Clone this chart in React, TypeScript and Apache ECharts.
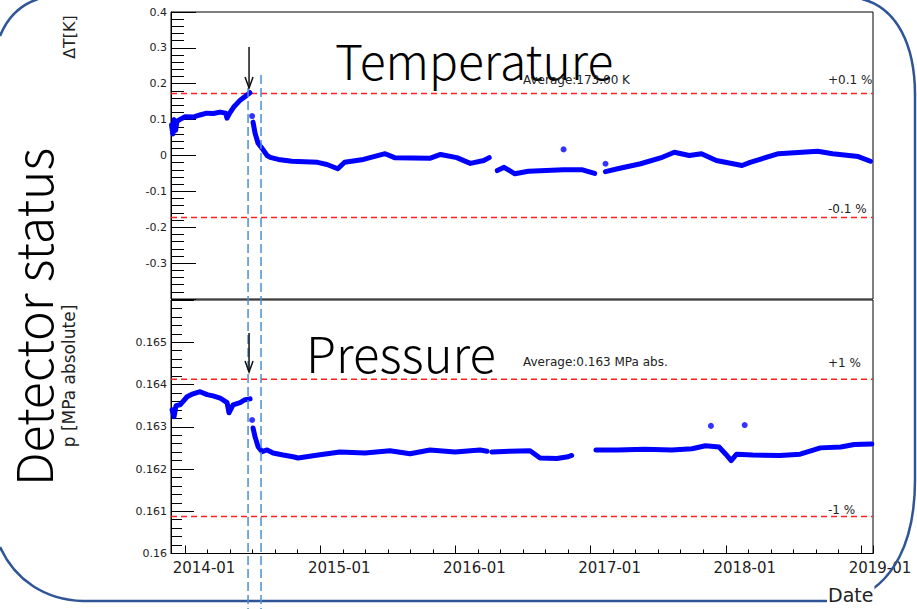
import React, { useEffect, useRef } from 'react';
import * as echarts from 'echarts';

// x values are decimal years (2014.0 = 2014-01-01)
const X_MIN = 2013.896;
const X_MAX = 2019.089;
const YEAR_TICKS = [2014, 2015, 2016, 2017, 2018, 2019];

// Temperature deviation ΔT [K], around the 173.00 K average
const tempSeg1: [number, number][] = [
  [2013.9, 0.085], [2013.91, 0.06], [2013.92, 0.1], [2013.93, 0.07], [2013.94, 0.095], [2013.96, 0.1],
  [2014.0, 0.108], [2014.06, 0.107], [2014.11, 0.113], [2014.16, 0.118], [2014.21, 0.117], [2014.26, 0.121],
  [2014.3, 0.118], [2014.31, 0.104], [2014.33, 0.118], [2014.36, 0.135], [2014.41, 0.155], [2014.46, 0.169],
  [2014.48, 0.175],
];
const tempSeg2: [number, number][] = [
  [2014.503, 0.093], [2014.518, 0.062], [2014.54, 0.034], [2014.57, 0.02], [2014.607, 0.0], [2014.63, -0.005],
  [2014.69, -0.011], [2014.79, -0.016], [2014.98, -0.019], [2015.05, -0.025], [2015.13, -0.037], [2015.18, -0.019],
  [2015.32, -0.011], [2015.48, 0.005], [2015.55, -0.006], [2015.81, -0.008], [2015.89, 0.003], [2016.01, -0.006],
  [2016.11, -0.022], [2016.21, -0.014], [2016.25, -0.006],
];
const tempSeg3: [number, number][] = [
  [2016.31, -0.042], [2016.36, -0.033], [2016.44, -0.051], [2016.54, -0.044], [2016.8, -0.04], [2016.94, -0.04],
  [2017.03, -0.05],
];
const tempSeg4: [number, number][] = [
  [2017.11, -0.045], [2017.2, -0.037], [2017.37, -0.023], [2017.53, -0.005], [2017.62, 0.009], [2017.73, 0.0],
  [2017.82, 0.005], [2017.93, -0.014], [2018.12, -0.028], [2018.18, -0.019], [2018.39, 0.005], [2018.68, 0.012],
  [2018.79, 0.005], [2018.98, -0.003], [2019.07, -0.016],
];
const tempDots: [number, number][] = [[2014.496, 0.11], [2016.8, 0.017], [2017.11, -0.023]];

// Pressure [MPa absolute], around the 0.163 MPa average
const presSeg1: [number, number][] = [
  [2013.904, 0.1634], [2013.919, 0.16324], [2013.933, 0.1635], [2013.963, 0.16352], [2014.015, 0.16371],
  [2014.059, 0.16378], [2014.111, 0.16383], [2014.163, 0.16376], [2014.207, 0.16373], [2014.259, 0.16368],
  [2014.311, 0.16357], [2014.325, 0.16333], [2014.355, 0.16352], [2014.407, 0.16357], [2014.444, 0.16364],
  [2014.481, 0.16366],
];
const presSeg2: [number, number][] = [
  [2014.503, 0.16297], [2014.518, 0.16276], [2014.54, 0.16253], [2014.57, 0.16241], [2014.607, 0.16245],
  [2014.651, 0.16238], [2014.725, 0.16233], [2014.799, 0.16229], [2014.836, 0.16226], [2014.984, 0.16233],
  [2015.146, 0.1624], [2015.331, 0.16238], [2015.516, 0.16243], [2015.664, 0.16236], [2015.812, 0.16245],
  [2015.997, 0.1624], [2016.182, 0.16245], [2016.234, 0.16242],
];
const presSeg3: [number, number][] = [
  [2016.27, 0.1624], [2016.4, 0.16242], [2016.552, 0.16243], [2016.626, 0.16226], [2016.75, 0.16225],
  [2016.833, 0.16229], [2016.86, 0.16232],
];
const presSeg4: [number, number][] = [
  [2017.04, 0.16245], [2017.2, 0.16245], [2017.4, 0.16247], [2017.6, 0.16245], [2017.75, 0.16248],
  [2017.85, 0.16255], [2017.95, 0.16252], [2018.0, 0.16235], [2018.04, 0.1622], [2018.08, 0.16235],
  [2018.2, 0.16233], [2018.4, 0.16232], [2018.55, 0.16235], [2018.7, 0.1625], [2018.85, 0.16252],
  [2018.95, 0.16258], [2019.08, 0.16259],
];
const presDots: [number, number][] = [[2014.496, 0.16316], [2017.89, 0.16302], [2018.14, 0.16304]];

// Limits: ±0.1 % of 173 K, ±1 % of the pressure average
const tempLimits = [0.173, -0.173];
const tempLimitLabels = ['+0.1 %', '-0.1 %'];
const presLimits = [0.164125, 0.160875];
const presLimitLabels = ['+1 %', '-1 %'];

// Event markers (dates of the two dashed vertical lines)
const eventDates = [2014.466, 2014.562];

const BLUE = '#0000ff';
const LABEL_FONT = 'DejaVu Sans';

function lineSeries(data: [number, number][], idx: number) {
  return {
    type: 'line',
    xAxisIndex: idx,
    yAxisIndex: idx,
    data,
    showSymbol: false,
    symbol: 'none',
    lineStyle: { color: BLUE, width: 5, join: 'round', cap: 'round' },
    z: 3,
  };
}

function limitSeries(v: number, idx: number) {
  return {
    type: 'line',
    xAxisIndex: idx,
    yAxisIndex: idx,
    data: [[X_MIN, v], [X_MAX, v]],
    showSymbol: false,
    symbol: 'none',
    silent: true,
    lineStyle: { color: '#ff2020', type: [6, 4], width: 1.5 },
    z: 2,
  };
}

export default function App() {
  const ref = useRef<HTMLDivElement>(null);

  useEffect(() => {
    document.body.style.margin = '0';
    if (!ref.current) return;
    echarts.graphic.registerShape(
      'roundframe',
      echarts.graphic.extendPath(
        'M 0 36 C 8 16 20 5 38 -1 M 862 -1 C 897 8 915 45 915 95 L 915 480 C 915 540 895 585 850 601 L 83 601 C 45 600 15 580 0 547',
        {}
      )
    );
    const chart = echarts.init(ref.current, null, { renderer: 'svg' });

    const yearLabel = (v: number) => {
      const r = Math.round(v);
      return Math.abs(v - r) < 1e-6 && YEAR_TICKS.includes(r) ? `${r}-01` : '';
    };
    const numLabel = (v: number) => String(+Number(v).toFixed(4));

    const option: any = {
      animation: false,
      grid: [
        { left: 171, top: 12, width: 702, height: 287, show: true, borderColor: '#000', borderWidth: 1, backgroundColor: 'transparent' },
        { left: 171, top: 300, width: 702, height: 253.5, show: true, borderColor: '#000', borderWidth: 1, backgroundColor: 'transparent' },
      ],
      xAxis: [
        {
          type: 'value', gridIndex: 0, min: X_MIN, max: X_MAX,
          axisLine: { show: false }, axisTick: { show: false }, axisLabel: { show: false }, splitLine: { show: false },
        },
        {
          type: 'value', gridIndex: 1, min: X_MIN, max: X_MAX,
          axisLine: { show: true, onZero: false, lineStyle: { color: '#000', width: 1 } },
          axisTick: { show: true, inside: true, length: 8, lineStyle: { color: '#000' } },
          minorTick: { show: true, splitNumber: 6, length: 4, lineStyle: { color: '#000' } },
          axisLabel: {
            formatter: yearLabel, showMinLabel: false, showMaxLabel: false,
            fontFamily: LABEL_FONT, fontSize: 15, color: '#222', margin: 7, padding: [0, 0, 0, 38],
          },
          splitLine: { show: false },
        },
      ],
      yAxis: [
        {
          type: 'value', gridIndex: 0, min: -0.4, max: 0.4, interval: 0.1,
          axisLine: { show: true, onZero: false, lineStyle: { color: '#000', width: 1 } },
          axisTick: { show: true, inside: true, length: 25, lineStyle: { color: '#000' } },
          minorTick: { show: true, splitNumber: 5, length: 13, lineStyle: { color: '#000' } },
          axisLabel: { formatter: numLabel, showMinLabel: false, fontFamily: LABEL_FONT, fontSize: 11, color: '#222', margin: 4 },
          splitLine: { show: false },
        },
        {
          type: 'value', gridIndex: 1, min: 0.16, max: 0.166, interval: 0.001,
          axisLine: { show: true, onZero: false, lineStyle: { color: '#000', width: 1 } },
          axisTick: { show: true, inside: true, length: 23, lineStyle: { color: '#000' } },
          minorTick: { show: true, splitNumber: 5, length: 11, lineStyle: { color: '#000' } },
          axisLabel: { formatter: numLabel, showMaxLabel: false, fontFamily: LABEL_FONT, fontSize: 11, color: '#222', margin: 4 },
          splitLine: { show: false },
        },
      ],
      series: [
        ...tempLimits.map((v) => limitSeries(v, 0)),
        ...presLimits.map((v) => limitSeries(v, 1)),
        lineSeries(tempSeg1, 0),
        lineSeries(tempSeg2, 0),
        lineSeries(tempSeg3, 0),
        lineSeries(tempSeg4, 0),
        { type: 'scatter', xAxisIndex: 0, yAxisIndex: 0, data: tempDots, symbolSize: 6, itemStyle: { color: BLUE }, z: 3 },
        lineSeries(presSeg1, 1),
        lineSeries(presSeg2, 1),
        lineSeries(presSeg3, 1),
        lineSeries(presSeg4, 1),
        { type: 'scatter', xAxisIndex: 1, yAxisIndex: 1, data: presDots, symbolSize: 6, itemStyle: { color: BLUE }, z: 3 },
      ],
    };
    chart.setOption(option);

    const ex = eventDates.map((d) => chart.convertToPixel({ xAxisIndex: 1 }, d) as number);
    const ax = ex[0] + 1;
    const arrow = (y0: number, y1: number) => [
      { type: 'line', shape: { x1: ax, y1: y0, x2: ax, y2: y1 }, style: { stroke: '#111', lineWidth: 1.5 }, z: 20 },
      {
        type: 'polyline',
        shape: { points: [[ax - 4, y1 - 11], [ax, y1], [ax + 4, y1 - 11]] },
        style: { stroke: '#111', lineWidth: 1.5, fill: 'none' },
        z: 20,
      },
    ];

    // limit labels, placed from the axes' scales
    const limitLabel = (v: number, idx: number, text: string, rise: number) => {
      const p = chart.convertToPixel({ xAxisIndex: idx, yAxisIndex: idx }, [X_MAX, v]) as number[];
      return {
        type: 'text', x: p[0] - 45, y: p[1] - rise, z: 10,
        style: { text, font: `12px ${LABEL_FONT}`, fill: '#222', textAlign: 'left', textVerticalAlign: 'middle' },
      };
    };

    const bigFont = '"Noto Sans CJK JP", "Noto Sans", sans-serif';
    chart.setOption({
      graphic: [
        { type: 'roundframe', style: { stroke: '#2f5597', lineWidth: 2.5, fill: 'none' }, z: 5 },
        {
          type: 'line', shape: { x1: ex[0], y1: 88, x2: ex[0], y2: 609 },
          style: { stroke: '#4a90d0', lineWidth: 1.5, lineDash: [9, 4] }, z: 15,
        },
        {
          type: 'line', shape: { x1: ex[1], y1: 75, x2: ex[1], y2: 609 },
          style: { stroke: '#4a90d0', lineWidth: 1.5, lineDash: [9, 4] }, z: 15,
        },
        ...arrow(47, 88),
        ...arrow(333, 372),
        limitLabel(tempLimits[0], 0, tempLimitLabels[0], 13),
        limitLabel(tempLimits[1], 0, tempLimitLabels[1], 9),
        limitLabel(presLimits[0], 1, presLimitLabels[0], 16),
        limitLabel(presLimits[1], 1, presLimitLabels[1], 7),
        {
          type: 'text', x: 335, y: 59, z: 10,
          style: { text: 'Temperature', font: `300 48px ${bigFont}`, fill: '#000', textAlign: 'left', textVerticalAlign: 'middle' },
        },
        {
          type: 'text', x: 306, y: 351, z: 10,
          style: { text: 'Pressure', font: `300 49px ${bigFont}`, fill: '#000', textAlign: 'left', textVerticalAlign: 'middle' },
        },
        {
          type: 'text', x: 31, y: 317, rotation: Math.PI / 2, z: 10,
          style: { text: 'Detector status', font: `300 50px ${bigFont}`, fill: '#000', textAlign: 'center', textVerticalAlign: 'middle' },
        },
        {
          type: 'text', x: 69, y: 37, rotation: Math.PI / 2, z: 10,
          style: { text: 'ΔT[K]', font: `16px ${LABEL_FONT}`, fill: '#222', textAlign: 'center', textVerticalAlign: 'middle' },
        },
        {
          type: 'text', x: 69, y: 376, rotation: Math.PI / 2, z: 10,
          style: { text: 'p [MPa absolute]', font: `17px ${LABEL_FONT}`, fill: '#222', textAlign: 'center', textVerticalAlign: 'middle' },
        },
        {
          type: 'text', x: 523, y: 80, z: 10,
          style: { text: 'Average:173.00 K', font: `12px ${LABEL_FONT}`, fill: '#222', textAlign: 'left', textVerticalAlign: 'middle' },
        },
        {
          type: 'text', x: 523, y: 362, z: 10,
          style: { text: 'Average:0.163 MPa abs.', font: `12px ${LABEL_FONT}`, fill: '#222', textAlign: 'left', textVerticalAlign: 'middle' },
        },
        {
          type: 'text', x: 827, y: 595, z: 30,
          style: {
            text: 'Date', font: `19px ${LABEL_FONT}`, fill: '#222', textAlign: 'left', textVerticalAlign: 'middle',
            backgroundColor: '#fff', padding: [0, 1, 0, 1],
          },
        },
      ],
    });

    return () => chart.dispose();
  }, []);

  return <div ref={ref} style={{ position: 'absolute', left: 0, top: 0, width: 917, height: 609 }} />;
}
